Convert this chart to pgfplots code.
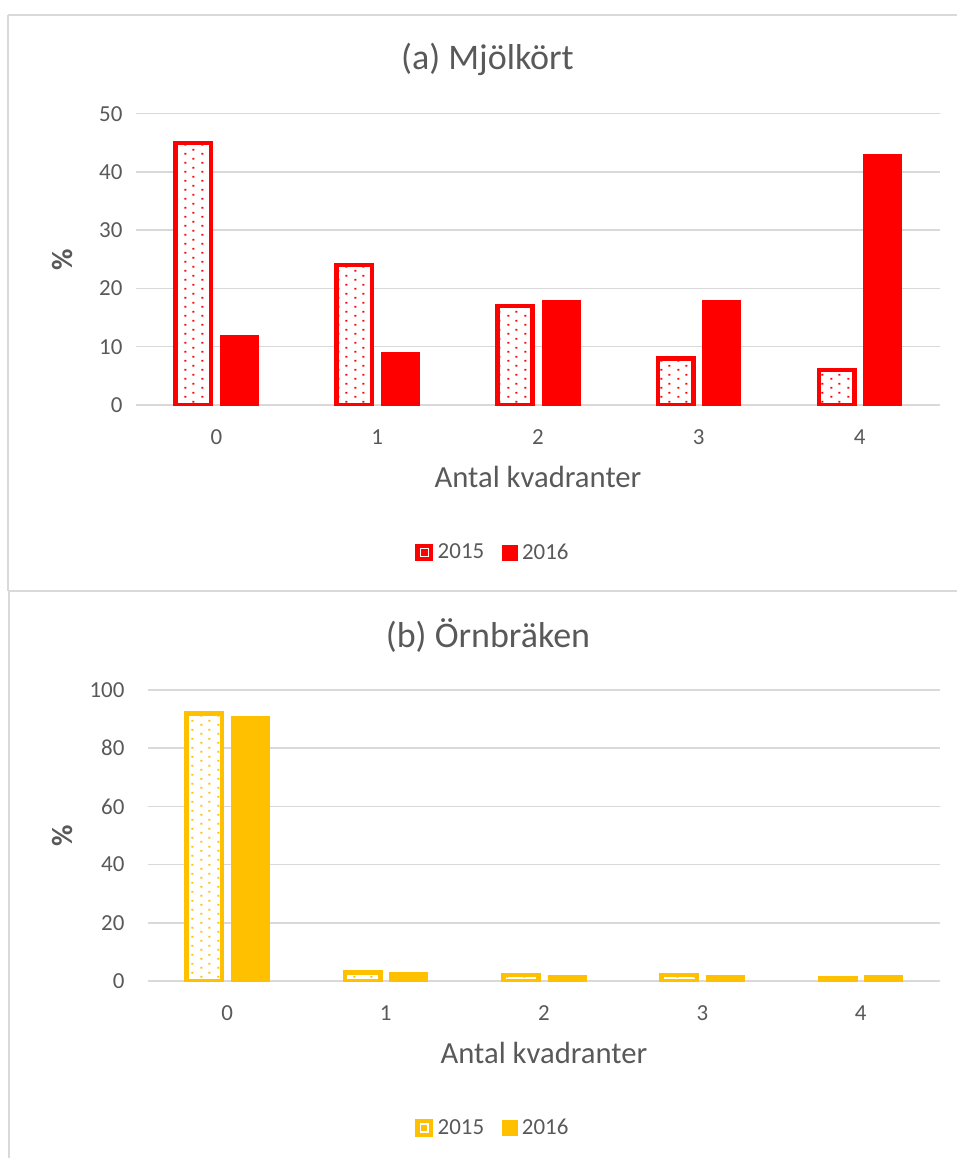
\documentclass[border=0pt]{standalone}
\usepackage{fontspec}
\setmainfont{Carlito}
\usepackage{pgfplots}
\pgfplotsset{compat=1.18}
\usetikzlibrary{patterns}

\definecolor{txtgray}{HTML}{595959}
\definecolor{gridgray}{HTML}{D9D9D9}
\definecolor{xred}{HTML}{FF0000}
\definecolor{xgold}{HTML}{FFC000}

% staggered dot fill used for the 2015 bars
\pgfdeclarepatternformonly{exceldots}{\pgfpointorigin}{\pgfpoint{12.45pt}{6.4pt}}{\pgfpoint{12.45pt}{6.4pt}}{%
  \pgfpathrectangle{\pgfpoint{1pt}{1pt}}{\pgfpoint{1.5pt}{1.5pt}}%
  \pgfpathrectangle{\pgfpoint{7.225pt}{4.2pt}}{\pgfpoint{1.5pt}{1.5pt}}%
  \pgfusepath{fill}%
}

\pgfplotstableread{
k  y2015  y2016
0  45     12
1  24     9
2  17     18
3  8      18
4  6      43
}\mjolkort

\pgfplotstableread{
k  y2015  y2016
0  92     91
1  3      3
2  2      2
3  2      2
4  1      2
}\ornbraken

\newcommand{\tickfont}{\fontsize{17.2}{20}\selectfont}

\pgfplotsset{
  panel/.style={
    scale only axis,
    xmin=-0.5, xmax=4.5, ymin=0,
    xtick={0,1,2,3,4},
    axis line style={draw=none},
    major tick length=0pt,
    ymajorgrids,
    grid style={gridgray, line width=1.1pt},
    /pgf/number format/assume math mode=true,
    tick label style={text=txtgray, font=\tickfont},
    xticklabel style={anchor=base, inner sep=0pt, yshift=-29.25pt},
    xlabel={Antal kvadranter},
    xlabel style={anchor=base, inner sep=0pt, text=txtgray,
      font=\fontsize{23}{27}\selectfont},
    ylabel={\%},
    ylabel style={anchor=center, inner sep=0pt, text=txtgray,
      font=\fontsize{22}{26}\selectfont\bfseries},
    title style={anchor=base, inner sep=0pt, text=txtgray,
      font=\fontsize{27}{32}\selectfont},
    legend columns=2,
    legend style={draw=none, fill=none, anchor=center, inner sep=0pt,
      /tikz/every odd column/.append style={column sep=3.5pt},
      /tikz/every even column/.append style={column sep=13pt},
      nodes={inner sep=0pt, text=txtgray, font=\tickfont}},
  },
  % bars for the first year: white body, dotted fill, thick outline
  first year/.style={ybar, bar width=26.5pt, bar shift=-17.25pt,
    draw=#1, line width=3.4pt, pattern=exceldots, pattern color=#1,
    legend image code/.code={
      \draw[line width=3.2pt, draw=#1, fill=white] (0pt,-5pt) rectangle (10pt,5pt);
      \fill[#1] (4.25pt,-0.75pt) rectangle (5.75pt,0.75pt);
    }},
  first year base/.style={ybar, bar width=26.5pt, bar shift=-17.25pt,
    fill=white, draw=none, forget plot},
  second year/.style={ybar, bar width=28.5pt, bar shift=17.25pt,
    fill=#1, draw=#1, line width=0.6pt,
    legend image code/.code={
      \fill[#1] (0pt,-5.6pt) rectangle (11.25pt,5.6pt);
    }},
}

\begin{document}
\begin{tikzpicture}
\path[use as bounding box] (0pt,0pt) rectangle (717.75pt,-868.5pt);

% chart frames
\draw[gridgray, line width=1.1pt] (6pt,-11.25pt) -- (717.75pt,-11.25pt);
\draw[gridgray, line width=1.1pt] (6pt,-11.25pt) -- (6pt,-443.25pt);
\draw[gridgray, line width=1.1pt] (6pt,-443.25pt) -- (717.75pt,-443.25pt);
\draw[gridgray, line width=1.1pt] (6.75pt,-443.25pt) -- (6.75pt,-868.5pt);

% (a) Mjölkört
\begin{axis}[panel,
  at={(102pt,-303.75pt)}, anchor=south west,
  width=603pt, height=218.5pt,
  ymax=50, ytick={0,10,...,50},
  yticklabel style={anchor=east, inner sep=0pt, xshift=-10pt},
  xlabel style={at={(axis description cs:0.5,0)}, yshift=-61.5pt},
  ylabel style={at={(axis description cs:-0.0914,0.5)}},
  title={(a) Mjölkört},
  title style={at={(axis description cs:0.4372,1)}, yshift=27.5pt},
  legend style={at={(axis description cs:0.4428,-0.5063)}},
]
\addplot[first year base] table[x=k, y=y2015] {\mjolkort};
\addplot[first year=xred] table[x=k, y=y2015] {\mjolkort};
\addplot[second year=xred] table[x=k, y=y2016] {\mjolkort};
\legend{2015, 2016}
\end{axis}

% (b) Örnbräken
\begin{axis}[panel,
  at={(111pt,-735.75pt)}, anchor=south west,
  width=594pt, height=218.25pt,
  ymax=100, ytick={0,20,...,100},
  yticklabel style={anchor=east, inner sep=0pt, xshift=-17.5pt},
  xlabel style={at={(axis description cs:0.5,0)}, yshift=-61.5pt},
  ylabel style={at={(axis description cs:-0.108,0.5)}},
  title={(b) Örnbräken},
  title style={at={(axis description cs:0.4293,1)}, yshift=26.25pt},
  legend style={at={(axis description cs:0.4343,-0.5052)}},
]
\addplot[first year base] table[x=k, y=y2015] {\ornbraken};
\addplot[first year=xgold] table[x=k, y=y2015] {\ornbraken};
\addplot[second year=xgold] table[x=k, y=y2016] {\ornbraken};
\legend{2015, 2016}
\end{axis}
\end{tikzpicture}
\end{document}
